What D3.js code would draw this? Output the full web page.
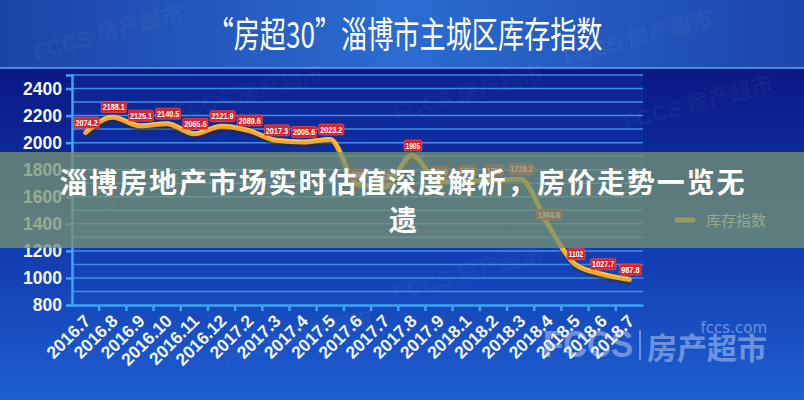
<!DOCTYPE html>
<html><head><meta charset="utf-8">
<script src="https://cdn.jsdelivr.net/npm/d3@7/dist/d3.min.js"></script>
<style>html,body{margin:0;padding:0;background:#0b1f8c;}svg{display:block;}</style>
</head><body>
<svg id="chart" width="804" height="400"></svg>
<script>
const categories = ["2016.7","2016.8","2016.9","2016.10","2016.11","2016.12","2017.2","2017.3","2017.4","2017.5","2017.6","2017.7","2017.8","2017.9","2018.1","2018.2","2018.3","2018.4","2018.5","2018.6","2018.7"];
const inventoryIndex = [2074.2,2188.1,2125.1,2140.5,2065.6,2121.9,2089.6,2017.3,2005.6,2023.2,1690,1670,1905,1710,1715,1720,1729.2,1394.8,1102,1027.7,987.8];
const yTicks = [800,1000,1200,1400,1600,1800,2000,2200,2400];
const yGrid = [900,1000,1100,1200,1300,1400,1500,1600,1700,1800,1900,2000,2100,2200,2300,2400,2500];
const seriesName = "库存指数";
const titleText = "“房超30”淄博市主城区库存指数";
const bannerLine1 = "淄博房地产市场实时估值深度解析，房价走势一览无";
const bannerLine2 = "遗";

const W = 804, H = 400;
const svg = d3.select("#chart");
const defs = svg.append("defs");

const hg = defs.append("linearGradient").attr("id","hdr").attr("x1","0").attr("x2","1").attr("y1","0").attr("y2","0");
hg.append("stop").attr("offset","0%").attr("stop-color","#1a44a6");
hg.append("stop").attr("offset","50%").attr("stop-color","#2c6cd2");
hg.append("stop").attr("offset","100%").attr("stop-color","#1a46aa");
const bg = defs.append("linearGradient").attr("id","body").attr("x1","0").attr("x2","0").attr("y1","0").attr("y2","1");
bg.append("stop").attr("offset","0%").attr("stop-color","#0a1984");
bg.append("stop").attr("offset","45%").attr("stop-color","#0f34a8");
bg.append("stop").attr("offset","100%").attr("stop-color","#1e5fd2");

svg.append("rect").attr("x",0).attr("y",68).attr("width",W).attr("height",H-68).attr("fill","url(#body)");
svg.append("rect").attr("x",0).attr("y",0).attr("width",W).attr("height",68).attr("fill","url(#hdr)");
svg.append("rect").attr("x",0).attr("y",67).attr("width",W).attr("height",2).attr("fill","#5a9ef0").attr("opacity",0.8);

// faint watermarks
const wm = [[110,40],[250,100],[470,100],[640,45],[700,110],[160,200],[470,280],[300,345]];
wm.forEach(([x,y])=>{
  svg.append("text").attr("transform",`translate(${x},${y}) rotate(-15)`)
    .attr("font-family","Liberation Sans, Noto Sans CJK SC").attr("font-weight","bold").attr("font-size",22)
    .attr("fill","#ffffff").attr("opacity",0.035).attr("text-anchor","middle").text("FCCS 房产超市");
});

// title
svg.append("text").attr("x",405).attr("y",48).attr("text-anchor","middle")
  .attr("font-family","Noto Sans CJK SC").attr("font-size",36).attr("fill","#ffffff")
  .attr("textLength",395).attr("lengthAdjust","spacingAndGlyphs").text(titleText);

const x = d3.scaleBand().domain(categories).range([72,643]).padding(0);
const y = d3.scaleLinear().domain([800,2500]).range([305,75]);

// plot background tint
svg.append("rect").attr("x",72).attr("y",75).attr("width",571).attr("height",230).attr("fill","#1448c8").attr("opacity",0.18);

// gridlines
svg.append("g").selectAll("line").data(yGrid).join("line")
  .attr("x1",72).attr("x2",643).attr("y1",d=>y(d)).attr("y2",d=>y(d))
  .attr("stroke","#3f8ee6").attr("stroke-width",1.5);

// y axis
const yAxis = d3.axisLeft(y).tickValues(yTicks).tickSize(6).tickPadding(4).tickFormat(d3.format("d"));
const gy = svg.append("g").attr("transform","translate(72,0)").call(yAxis);
gy.select(".domain").attr("stroke","#3aa6f5").attr("stroke-width",2.5);
gy.selectAll(".tick line").attr("stroke","#3aa6f5").attr("stroke-width",2.5);
gy.selectAll(".tick text").attr("fill","#f2f6ff").attr("font-family","Liberation Sans, Arial").attr("font-weight","bold").attr("font-size",17.5);

// x axis
const xAxis = d3.axisBottom(x).tickSize(0).tickFormat(d=>d);
const gx = svg.append("g").attr("transform","translate(0,305)").call(xAxis);
gx.select(".domain").attr("stroke","#3aa6f5").attr("stroke-width",2.5);
gx.selectAll(".tick text").attr("fill","#f2f6ff").attr("font-family","Liberation Sans, Arial").attr("font-weight","bold").attr("font-size",17.5)
  .attr("text-anchor","end").attr("dy",null).attr("y",0)
  .attr("transform","translate(6,17) rotate(-45)");
// band boundary ticks
svg.append("g").selectAll("line").data(categories.slice(1)).join("line")
  .attr("x1",d=>x(d)).attr("x2",d=>x(d)).attr("y1",305).attr("y2",311)
  .attr("stroke","#3aa6f5").attr("stroke-width",2.5);

// line
const pts = categories.map((c,i)=>({c, v: inventoryIndex[i]}));
const line = d3.line().x(d=>x(d.c)+x.bandwidth()/2).y(d=>y(d.v)).curve(d3.curveMonotoneX);
svg.append("path").datum(pts).attr("d",line).attr("fill","none").attr("stroke","#3a2a10").attr("stroke-opacity",0.45)
  .attr("stroke-width",6).attr("transform","translate(1,2.5)").attr("stroke-linejoin","round");
svg.append("path").datum(pts).attr("d",line).attr("fill","none").attr("stroke","#f3a62a")
  .attr("stroke-width",5).attr("stroke-linejoin","round").attr("stroke-linecap","round");
svg.append("path").datum(pts).attr("d",line).attr("fill","none").attr("stroke","#ffd35a")
  .attr("stroke-width",1.5).attr("transform","translate(0,-1.5)").attr("opacity",0.7);

// data labels
const lg = svg.append("g");
pts.forEach(d=>{
  const cx = x(d.c)+x.bandwidth()/2 + 1, cy = y(d.v) - 10;
  const t = String(d.v);
  const tw = t.length*3.7;
  const w = tw + 3;
  lg.append("rect").attr("x",cx-w/2).attr("y",cy-5.5).attr("width",w).attr("height",11).attr("rx",1.5)
    .attr("fill","#d8232c").attr("stroke","#ff5a50").attr("stroke-width",0.6);
  lg.append("text").attr("x",cx).attr("y",cy+3.2).attr("text-anchor","middle")
    .attr("font-family","Liberation Sans, Arial").attr("font-weight","bold").attr("font-size",9)
    .attr("textLength",tw).attr("lengthAdjust","spacingAndGlyphs")
    .attr("fill","#ffffff").text(t);
});

// legend
svg.append("line").attr("x1",677).attr("x2",693).attr("y1",220).attr("y2",220)
  .attr("stroke","#f3c42a").attr("stroke-width",5).attr("stroke-linecap","round");
svg.append("text").attr("x",706).attr("y",226).attr("font-family","Noto Sans CJK SC").attr("font-size",15)
  .attr("fill","#e6ecf6").text(seriesName);

// bottom-right watermark
const wmg = svg.append("g").attr("opacity",0.42);
wmg.append("text").attr("x",767).attr("y",333).attr("text-anchor","end").attr("font-family","DejaVu Sans, Noto Sans").attr("font-size",15).attr("fill","#dfe8ff").text("fccs.com");
wmg.append("text").attr("x",543).attr("y",357).attr("font-family","Liberation Sans, Arial").attr("font-weight","bold").attr("font-size",36)
  .attr("fill","#dfe8ff").attr("textLength",90).attr("lengthAdjust","spacingAndGlyphs").text("FCCS");
wmg.append("rect").attr("x",639).attr("y",330).attr("width",2).attr("height",30).attr("fill","#dfe8ff");
wmg.append("text").attr("x",647).attr("y",359).attr("font-family","Noto Sans CJK SC").attr("font-weight","bold").attr("font-size",30)
  .attr("fill","#dfe8ff").attr("textLength",120).attr("lengthAdjust","spacingAndGlyphs").text("房产超市");

// overlay banner
svg.append("rect").attr("x",0).attr("y",152).attr("width",W).attr("height",96).attr("fill","rgb(118,147,112)").attr("opacity",0.76);
svg.append("text").attr("x",402).attr("y",193).attr("text-anchor","middle")
  .attr("font-family","Noto Sans CJK SC").attr("font-weight","bold").attr("font-size",28).attr("fill","#ffffff")
  .attr("textLength",685).attr("lengthAdjust","spacing").text(bannerLine1);
svg.append("text").attr("x",403).attr("y",231).attr("text-anchor","middle")
  .attr("font-family","Noto Sans CJK SC").attr("font-weight","bold").attr("font-size",28).attr("fill","#ffffff").text(bannerLine2);
</script>
</body></html>
